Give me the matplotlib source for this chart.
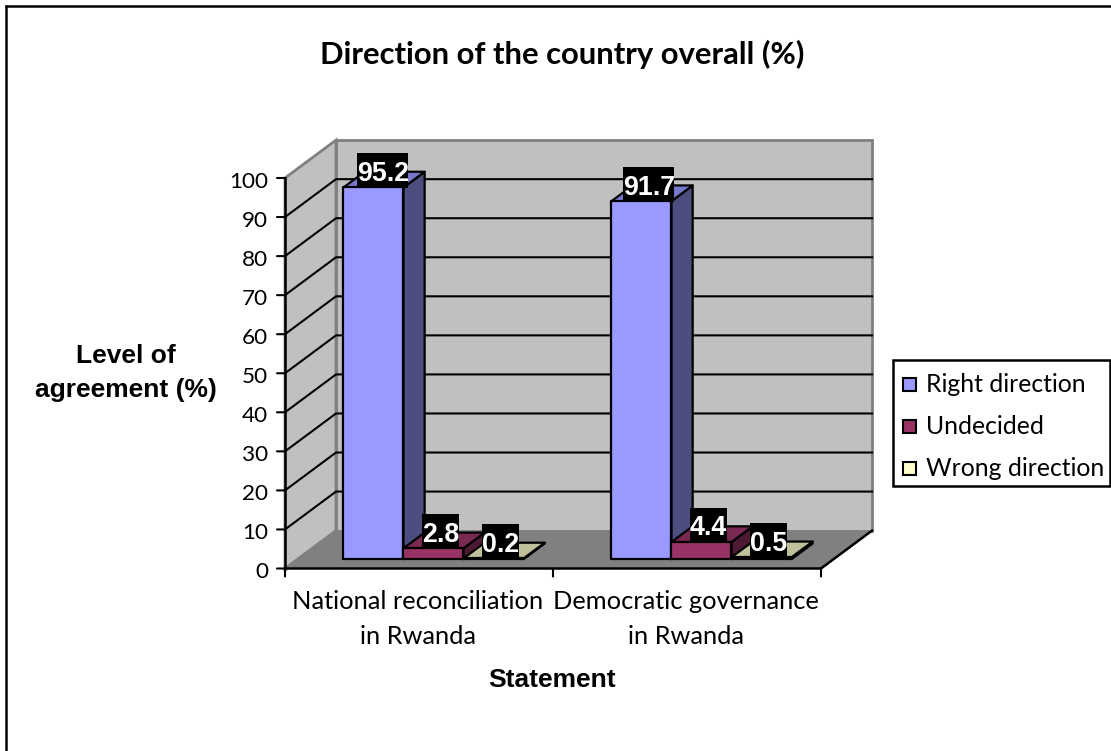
import matplotlib
matplotlib.use("Agg")
import matplotlib.pyplot as plt
from matplotlib.patches import Polygon, Rectangle
from matplotlib.transforms import Affine2D

# Survey results
categories = ["National reconciliation\nin Rwanda", "Democratic governance\nin Rwanda"]
series_names = ["Right direction", "Undecided", "Wrong direction"]
right_direction = [95.2, 91.7]
undecided = [2.8, 4.4]
wrong_direction = [0.2, 0.5]
y_ticks = list(range(0, 101, 10))

W, H = 1111, 751
fig = plt.figure(figsize=(W / 100, H / 100), dpi=100, facecolor="white")


def px_rect(x0, y0, x1, y1):
    """Figure fraction rectangle from pixel bounds measured from the top left."""
    return [x0 / W, 1 - y1 / H, (x1 - x0) / W, (y1 - y0) / H]


# Full-canvas overlay used for the frame and the legend
overlay = fig.add_axes([0, 0, 1, 1], zorder=5)
overlay.set_xlim(0, W)
overlay.set_ylim(H, 0)
overlay.axis("off")

# Axes spanning the front plane of the pseudo-3D box
ax = fig.add_axes(px_rect(285, 178, 821, 568.5))
ax.set_xlim(0, 2)
ax.set_ylim(0, 100)
ax.axis("off")

DX = 51 / 268    # depth of the box along x, in data units
DY = 9.7         # depth of the box along y, in data units
BAR_W = 60 / 268
GAP = 46 / 268
D0, D1 = 0.245, 0.66   # front and back depth of the bars


def proj(x, y, d):
    return (x + d * DX, y + d * DY)


def poly(points, **kw):
    kw.setdefault("clip_on", False)
    ax.add_patch(Polygon(points, closed=True, **kw))


# Walls and floor
wall = dict(facecolor="#C0C0C0", edgecolor="#808080", linewidth=2, joinstyle="miter")
poly([proj(0, 0, 1), proj(2, 0, 1), proj(2, 100, 1), proj(0, 100, 1)], **wall)
poly([proj(0, 0, 0), proj(0, 0, 1), proj(0, 100, 1), proj(0, 100, 0)], **wall)
poly([proj(0, 0, 0), proj(2, 0, 0), proj(2, 0, 1), proj(0, 0, 1)],
     facecolor="#808080", edgecolor="none")

# Gridlines run along the left wall and across the back wall
for t in y_ticks[1:-1]:
    pts = [proj(0, t, 0), proj(0, t, 1), proj(2, t, 1)]
    ax.plot(*zip(*pts), color="black", lw=1.5, clip_on=False, solid_joinstyle="miter")
ax.plot(*zip(proj(0, 0, 0), proj(2, 0, 0), proj(2, 0, 1)),
        color="black", lw=1.8, clip_on=False)
ax.plot([0, 0], [0, 100], color="black", lw=1.8, clip_on=False)

# Tick marks and tick labels
for t in y_ticks:
    ax.annotate("", xy=(0, t), xytext=(-8, 0), textcoords="offset pixels", xycoords="data",
                arrowprops=dict(arrowstyle="-", color="black", lw=1.5, shrinkA=0, shrinkB=0))
    ax.annotate(str(t), xy=(0, t), xytext=(-17, -3.5), textcoords="offset pixels",
                ha="right", va="center", fontsize=16.2, family="Lato", color="black")
for i in range(3):
    ax.annotate("", xy=(i, 0), xytext=(0, -8), textcoords="offset pixels", xycoords="data",
                arrowprops=dict(arrowstyle="-", color="black", lw=1.5, shrinkA=0, shrinkB=0))

shades = [("#9999FF", "#7777CC", "#4D4D80"),
          ("#993366", "#7A2952", "#4D1933"),
          ("#FFFFCC", "#C0C09A", "#80805F")]
legend_colors = [s[0] for s in shades]
edge = dict(edgecolor="black", linewidth=1.6, joinstyle="round")

all_values = [right_direction, undecided, wrong_direction]
labels = []
for c in range(len(categories)):
    for s, values in enumerate(all_values):
        v = values[c]
        x0 = c + GAP + s * BAR_W
        x1 = x0 + BAR_W
        front, top, side = shades[s]
        poly([proj(x1, 0, D0), proj(x1, 0, D1), proj(x1, v, D1), proj(x1, v, D0)],
             facecolor=side, zorder=3 + s, **edge)
        poly([proj(x0, v, D0), proj(x1, v, D0), proj(x1, v, D1), proj(x0, v, D1)],
             facecolor=top, zorder=3 + s, **edge)
        poly([proj(x0, 0, D0), proj(x1, 0, D0), proj(x1, v, D0), proj(x0, v, D0)],
             facecolor=front, zorder=3 + s, **edge)
        cx, cy = proj((x0 + x1) / 2, v, D0)
        labels.append((cx, cy, v))

# Value labels on black boxes, sized in pixels around the text
for cx, cy, v in labels:
    text = f"{v:.1f}"
    px, py = ax.transData.transform((cx, cy))
    box_w = 51 if len(text) == 4 else 37
    shift = 9.5 if v == 95.2 else 7.2
    ax.add_patch(Rectangle((px + shift - box_w / 2, py + 16.6 - 17.5), box_w, 35,
                           transform=Affine2D(), facecolor="black", edgecolor="none",
                           zorder=9, clip_on=False))
    ax.annotate(text, xy=(cx, cy), xytext=(shift, 16.6), textcoords="offset pixels",
                ha="center", va="center_baseline", fontsize=19.3, fontweight="bold",
                family="Liberation Sans", color="white", zorder=10)

# Category labels, title and axis titles
overlay.text(417.5, 619, categories[0], ha="center", va="center", fontsize=18.3, family="Lato",
             linespacing=1.6, color="black")
overlay.text(686, 619, categories[1], ha="center", va="center", fontsize=18.3, family="Lato",
             linespacing=1.6, color="black")
overlay.text(552, 680, "Statement", ha="center", va="center", fontsize=19,
             fontweight="bold", family="Liberation Sans")
overlay.text(126, 373, "Level of\nagreement (%)", ha="center", va="center", fontsize=19,
             fontweight="bold", family="Liberation Sans", linespacing=1.55)
overlay.text(562, 54, "Direction of the country overall (%)", ha="center", va="center",
             fontsize=22.3, fontweight="bold", family="Lato")

# Frame around the chart area
overlay.plot([6.2, 6.2], [751, 4.5], color="black", lw=1.8, solid_capstyle="butt")
overlay.plot([5, 1111], [5.6, 5.6], color="black", lw=1.8, solid_capstyle="butt")

# Legend
overlay.add_patch(Rectangle((893, 360), 217, 126, facecolor="white", edgecolor="black", lw=1.8, zorder=1))
for i, (name, color) in enumerate(zip(series_names, legend_colors)):
    y = 384 + i * 42
    overlay.add_patch(Rectangle((903, y - 6.5), 13, 13, facecolor=color, edgecolor="black",
                                lw=1.5, zorder=2))
    overlay.text(926, y + 1, name, ha="left", va="center", fontsize=17.8, family="Lato", zorder=2)

fig.savefig("out.png", dpi=100)
